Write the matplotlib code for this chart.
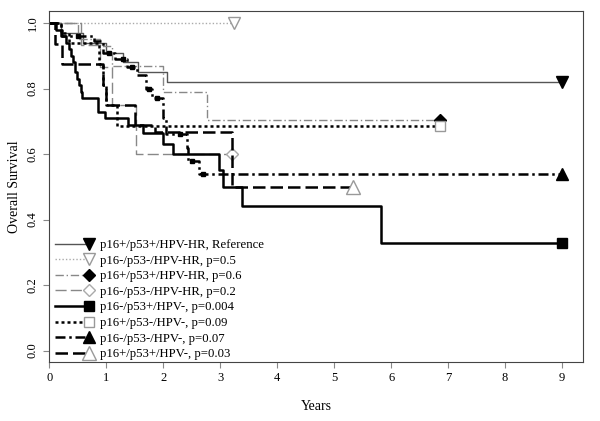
import numpy as np
import matplotlib.pyplot as plt
from matplotlib.legend_handler import HandlerLine2D

plt.rcParams['font.family'] = ['Liberation Serif', 'DejaVu Serif']

labels = ['p16+/p53+/HPV-HR, Reference',
          'p16-/p53-/HPV-HR, p=0.5',
          'p16+/p53+/HPV-HR, p=0.6',
          'p16-/p53-/HPV-HR, p=0.2',
          'p16-/p53+/HPV-, p=0.004',
          'p16+/p53-/HPV-, p=0.09',
          'p16-/p53-/HPV-, p=0.07',
          'p16+/p53+/HPV-, p=0.03']

# step curves: event times and survival after each step
t_ref = [0, 0.2, 0.6, 1.0, 1.3, 1.56, 2.07, 9.0]
s_ref = [1.0, 0.97, 0.94, 0.91, 0.88, 0.85, 0.82, 0.82]

t_nnhr = [0, 3.25]
s_nnhr = [1.0, 1.0]

t_pphr = [0, 0.5, 0.9, 1.1, 2.0, 2.77, 6.85]
s_pphr = [1.0, 0.95, 0.93, 0.87, 0.79, 0.705, 0.705]

t_nnhr2 = [0, 0.55, 0.9, 1.1, 1.53, 3.2]
s_nnhr2 = [1.0, 0.933, 0.867, 0.75, 0.60, 0.60]

t_npn = [0, 0.12, 0.22, 0.3, 0.35, 0.38, 0.42, 0.45, 0.48, 0.52, 0.55, 0.57,
         0.85, 0.98, 1.38, 1.64, 2.0, 2.18, 2.98, 3.05, 3.39, 5.82, 9.0]
s_npn = [1.0, 0.98, 0.96, 0.94, 0.92, 0.90, 0.88, 0.85, 0.83, 0.81, 0.79, 0.77,
         0.727, 0.71, 0.69, 0.665, 0.63, 0.60, 0.55, 0.50, 0.44, 0.33, 0.33]

t_pnn = [0, 0.2, 0.35, 0.88, 0.95, 1.0, 1.19, 6.85]
s_pnn = [1.0, 0.97, 0.94, 0.875, 0.81, 0.75, 0.687, 0.687]

t_nnn = [0, 0.2, 0.78, 0.95, 1.16, 1.37, 1.54, 1.7, 1.8, 2.0, 2.05, 2.42,
         2.44, 2.62, 9.0]
s_nnn = [1.0, 0.96, 0.945, 0.91, 0.89, 0.866, 0.84, 0.80, 0.77, 0.71, 0.66,
         0.62, 0.58, 0.54, 0.54]
# censor ticks on the dash-dot black curve
c_nnn = [0.5, 1.05, 1.3, 1.45, 1.75, 1.9, 2.3, 2.5, 2.7]

t_ppn = [0, 0.1, 0.23, 0.95, 1.0, 1.5, 1.85, 3.2, 5.33]
s_ppn = [1.0, 0.937, 0.875, 0.81, 0.75, 0.69, 0.667, 0.50, 0.50]

curves = [(t_ref, s_ref), (t_nnhr, s_nnhr), (t_pphr, s_pphr), (t_nnhr2, s_nnhr2),
          (t_npn, s_npn), (t_pnn, s_pnn), (t_nnn, s_nnn), (t_ppn, s_ppn)]

styles = [
    dict(color='#555555', lw=1.0, ls='-', marker='v', mfc='black', mec='black', ms=9),
    dict(color='#aaaaaa', lw=1.0, ls=(0, (1, 1.5)), marker='v', mfc='white', mec='#999999', ms=9),
    dict(color='#888888', lw=1.0, ls=(0, (6, 2, 1, 2)), marker='D', mfc='black', mec='black', ms=6),
    dict(color='#888888', lw=1.0, ls=(0, (8, 3)), marker='D', mfc='white', mec='#aaaaaa', ms=6),
    dict(color='black', lw=1.8, ls='-', marker='s', mfc='black', mec='black', ms=7),
    dict(color='black', lw=1.8, ls=(0, (1.2, 1.2)), marker='s', mfc='white', mec='#999999', ms=7),
    dict(color='black', lw=1.8, ls=(0, (4, 1.5, 1, 1.5)), marker='^', mfc='black', mec='black', ms=8),
    dict(color='black', lw=1.8, ls=(0, (5, 2)), marker='^', mfc='white', mec='#999999', ms=10),
]


class EndMarkerHandler(HandlerLine2D):
    # marker at the right end of the legend line, as in the original
    def create_artists(self, legend, orig_handle, xdescent, ydescent, width,
                       height, fontsize, trans):
        arts = super().create_artists(legend, orig_handle, xdescent, ydescent,
                                      width, height, fontsize, trans)
        for a in arts:
            n = len(a.get_xdata())
            a.set_markevery([n - 1])
        return arts


fig = plt.figure(figsize=(6, 4.21), dpi=100)
ax = fig.add_axes([0.082, 0.14, 0.89, 0.834])

handles = []
for (t, s), st, lab in zip(curves, styles, labels):
    ax.step(t, s, where='post', color=st['color'], lw=st['lw'], ls=st['ls'])
    ax.plot(t[-1], s[-1], ls='none', marker=st['marker'], mfc=st['mfc'],
            mec=st['mec'], ms=st['ms'])
    h, = ax.plot([], [], color=st['color'], lw=st['lw'], ls=st['ls'],
                 marker=st['marker'], mfc=st['mfc'], mec=st['mec'], ms=st['ms'],
                 label=lab)
    handles.append(h)

# censor marks
c_y = [s_nnn[np.searchsorted(t_nnn, c, side='right') - 1] for c in c_nnn]
ax.plot(c_nnn, c_y, ls='none', marker='s', ms=2.5, color='black')

ax.set_xlim(0, 9.37)
ax.set_ylim(-0.035, 1.037)
ax.set_xticks(range(10))
ax.set_yticks([0.0, 0.2, 0.4, 0.6, 0.8, 1.0])
ax.set_yticklabels(['0.0', '0.2', '0.4', '0.6', '0.8', '1.0'], rotation=90, va='center')
ax.tick_params(labelsize=9, color='#888888', length=4)
for sp in ax.spines.values():
    sp.set_color('#444444')
ax.set_xlabel('Years', fontsize=10, labelpad=11)
ax.set_ylabel('Overall Survival', fontsize=10)

ax.legend(handles=handles, loc='lower left', frameon=False, fontsize=9.2,
          handlelength=3.3, handletextpad=0.55, labelspacing=0.28,
          borderaxespad=0.05, borderpad=0.1,
          handler_map={h: EndMarkerHandler(numpoints=2) for h in handles})

fig.savefig('out.png', dpi=100)
